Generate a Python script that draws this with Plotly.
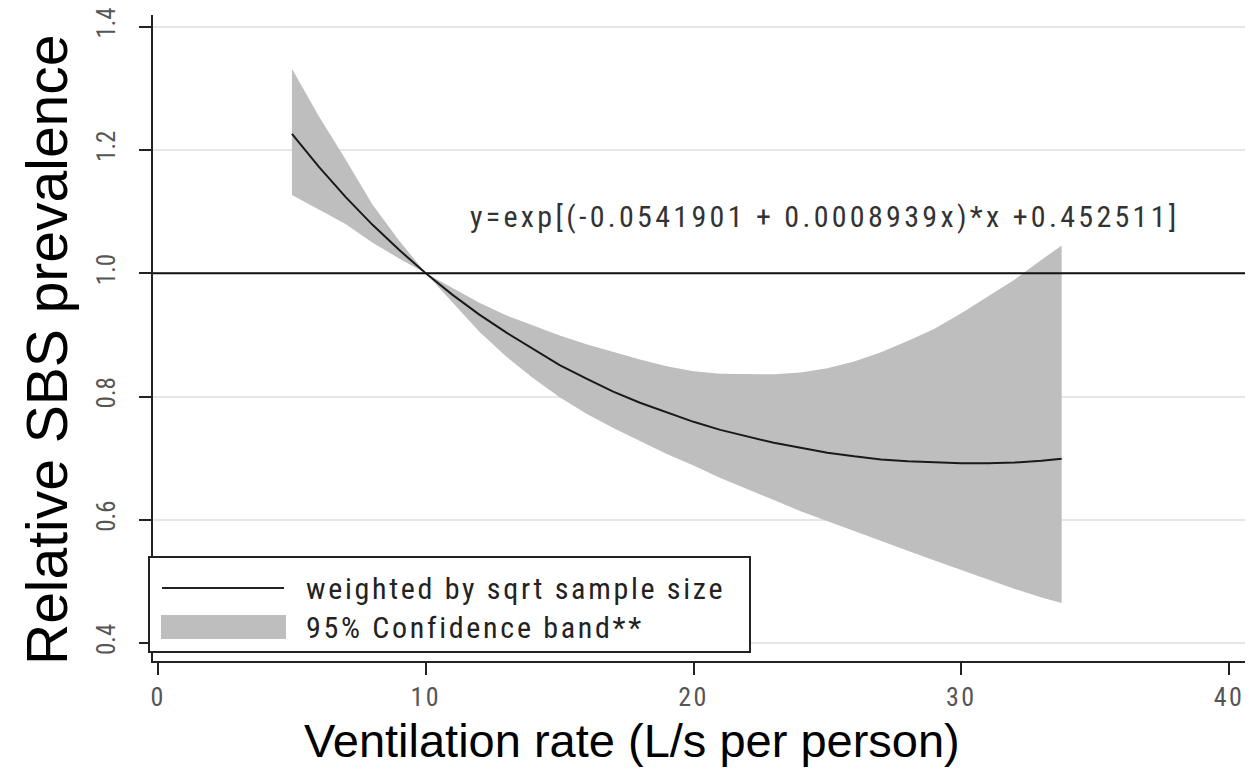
import plotly.graph_objects as go

# ---- data ----
vent_rate = [5, 6, 7, 8, 9, 10, 11, 12, 13, 14, 15, 16, 17, 18, 19, 20,
             21, 22, 23, 24, 25, 26, 27, 28, 29, 30, 31, 32, 33, 33.75]
fit_sbs = [1.226, 1.173, 1.124, 1.079, 1.038, 1.000, 0.965, 0.933, 0.904, 0.877,
           0.851, 0.829, 0.808, 0.790, 0.774, 0.759, 0.746, 0.735, 0.725, 0.717,
           0.709, 0.703, 0.698, 0.695, 0.693, 0.692, 0.692, 0.693, 0.696, 0.699]
ci_upper = [1.332, 1.255, 1.185, 1.112, 1.053, 1.000, 0.976, 0.952, 0.932, 0.915,
            0.899, 0.885, 0.872, 0.860, 0.849, 0.841, 0.837, 0.836, 0.836, 0.839,
            0.846, 0.857, 0.872, 0.890, 0.910, 0.935, 0.962, 0.990, 1.022, 1.045]
ci_lower = [1.127, 1.103, 1.080, 1.050, 1.024, 1.000, 0.952, 0.905, 0.865, 0.830,
            0.799, 0.772, 0.749, 0.728, 0.707, 0.688, 0.668, 0.650, 0.632, 0.614,
            0.598, 0.582, 0.566, 0.550, 0.534, 0.518, 0.503, 0.488, 0.474, 0.465]

x_ticks = [0, 10, 20, 30, 40]
x_tick_labels = ["0", "10", "20", "30", "40"]
y_ticks = [0.4, 0.6, 0.8, 1.0, 1.2, 1.4]
y_tick_labels = ["0.4", "0.6", "0.8", "1.0", "1.2", "1.4"]

legend_labels = ["weighted by sqrt sample size", "95% Confidence band**"]
equation_text = "y=exp[(-0.0541901 + 0.0008939x)*x +0.452511]"
x_title = "Ventilation rate (L/s per person)"
y_title = "Relative SBS prevalence"

# ---- styling ----
OFF = 8                      # page body margin in the browser
W, H = 1253 - OFF, 774 - OFF
ML, MR, MT, MB = 153 - OFF, 5, 15 - OFF, 113
PW, PH = W - ML - MR, H - MT - MB
STATA_FONT = "Liberation Sans Narrow, Roboto Condensed, DejaVu Sans Condensed, Liberation Sans, sans-serif"
TITLE_FONT = "Liberation Sans, Arial, sans-serif"
BAND = "#bebebe"


def spaced(t, sp=4.0):
    return '<span style="letter-spacing:%spx">%s</span>' % (sp, t)


def px_x(p):
    # screen pixel (reference coords) -> paper x
    return (p - OFF - ML) / PW


def px_y(p):
    # screen pixel (reference coords) -> paper y
    return (H - MB - (p - OFF)) / PH


fig = go.Figure()

# confidence band polygon
fig.add_trace(go.Scatter(
    x=vent_rate + vent_rate[::-1],
    y=ci_upper + ci_lower[::-1],
    fill="toself", fillcolor=BAND, mode="lines",
    line=dict(width=0, color=BAND), showlegend=False,
    name=legend_labels[1], hoverinfo="skip"))

# fitted curve
fig.add_trace(go.Scatter(
    x=vent_rate, y=fit_sbs, mode="lines",
    line=dict(color="#1a1a1a", width=2), showlegend=False,
    name=legend_labels[0]))

shapes = []
# reference line at 1.0
shapes.append(dict(type="line", xref="paper", yref="y", x0=0, x1=1.01,
                   y0=1.0, y1=1.0,
                   line=dict(color="#111111", width=2), layer="above"))

# manual legend
lx0, lx1, ly0, ly1 = px_x(149), px_x(750), px_y(557), px_y(652)
shapes.append(dict(type="rect", xref="paper", yref="paper", x0=lx0, x1=lx1, y0=ly1, y1=ly0,
                   line=dict(color="#222222", width=2), fillcolor="white", layer="above"))
shapes.append(dict(type="line", xref="paper", yref="paper", x0=px_x(162), x1=px_x(284),
                   y0=px_y(588), y1=px_y(588), line=dict(color="#222222", width=2), layer="above"))
shapes.append(dict(type="rect", xref="paper", yref="paper", x0=px_x(161), x1=px_x(286),
                   y0=px_y(639), y1=px_y(615), line=dict(width=0), fillcolor=BAND, layer="above"))

annotations = [
    dict(xref="paper", yref="paper", x=px_x(304), y=px_y(588), xanchor="left", yanchor="middle",
         text=spaced(legend_labels[0], 2.7), showarrow=False,
         font=dict(family=STATA_FONT, size=30, color="#222222")),
    dict(xref="paper", yref="paper", x=px_x(304), y=px_y(627), xanchor="left", yanchor="middle",
         text=spaced(legend_labels[1], 2.7), showarrow=False,
         font=dict(family=STATA_FONT, size=30, color="#222222")),
    dict(xref="paper", yref="paper", x=px_x(825), y=px_y(217), xanchor="center", yanchor="middle",
         text=spaced(equation_text, 3.3), showarrow=False,
         font=dict(family=STATA_FONT, size=30, color="#333333")),
    dict(xref="paper", yref="paper", x=px_x(632), y=px_y(740), xanchor="center", yanchor="middle",
         text=x_title, showarrow=False,
         font=dict(family=TITLE_FONT, size=47, color="black")),
    dict(xref="paper", yref="paper", x=px_x(47), y=px_y(350), xanchor="center", yanchor="middle",
         text=y_title, textangle=-90, showarrow=False,
         font=dict(family=TITLE_FONT, size=57, color="black")),
]

fig.update_layout(
    width=W, height=H,
    margin=dict(l=ML, r=MR, t=MT, b=MB, pad=0, autoexpand=False),
    paper_bgcolor="white", plot_bgcolor="white",
    shapes=shapes, annotations=annotations,
    showlegend=False,
    xaxis=dict(
        range=[-0.19, 40.71], tickvals=x_ticks,
        ticktext=[spaced(t, 2.5) for t in x_tick_labels],
        ticks="outside", ticklen=12, tickwidth=1.5, tickcolor="#222222",
        showline=True, linecolor="#222222", linewidth=2,
        showgrid=False, zeroline=False, automargin=False,
        ticklabeloverflow="allow", ticklabelstandoff=0,
        tickfont=dict(family=STATA_FONT, size=26, color="#555555"),
    ),
    yaxis=dict(
        range=[0.371, 1.419], tickvals=y_ticks,
        ticktext=y_tick_labels,
        tickangle=-90,
        ticks="outside", ticklen=12, tickwidth=1.5, tickcolor="#222222",
        showline=True, linecolor="#222222", linewidth=2,
        showgrid=True, gridcolor="#e6e6e6", gridwidth=1.5, zeroline=False,
        automargin=False, ticklabeloverflow="allow", ticklabelstandoff=14,
        tickfont=dict(family=STATA_FONT, size=25, color="#555555"),
    ),
)

fig.write_html("out.html")
